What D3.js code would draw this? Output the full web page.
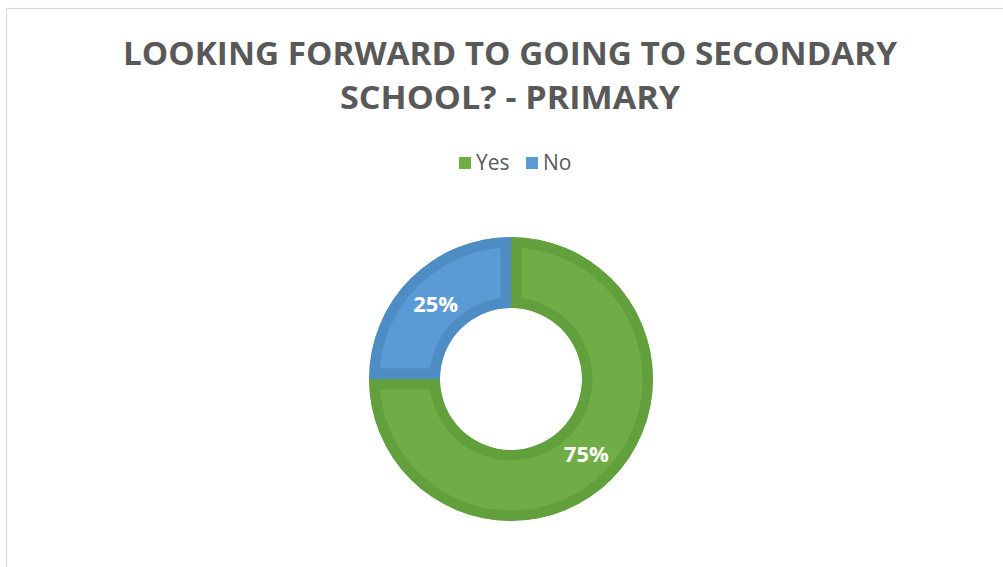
<!DOCTYPE html>
<html>
<head>
<meta charset="utf-8">
<script src="https://cdn.jsdelivr.net/npm/d3@7"></script>
<style>
  html, body { margin: 0; padding: 0; background: #fff; }
  svg { display: block; }
</style>
</head>
<body>
<svg id="chart" width="1003" height="567"></svg>
<script>
const categories = ["Yes", "No"];
const values = [75, 25];
const labels = ["75%", "25%"];
const fillColors = ["#70AD47", "#5B9BD5"];
const strokeColors = ["#62A03D", "#4E8CC4"];
const titleLines = ["LOOKING FORWARD TO GOING TO SECONDARY", "SCHOOL? - PRIMARY"];
const titleWidths = [774, 340];

const svg = d3.select("#chart");

// frame
svg.append("rect").attr("x", 6.5).attr("y", 8.5).attr("width", 1010).attr("height", 600)
  .attr("fill", "#fff").attr("stroke", "#D9D9D9").attr("stroke-width", 1.2);

// title
titleLines.forEach((t, i) => {
  svg.append("text").attr("text-anchor", "middle")
    .attr("font-family", "'Open Sans', sans-serif").attr("font-weight", "bold")
    .attr("font-size", 32).attr("fill", "#595959")
    .attr("x", 510).attr("y", 65 + i * 44)
    .attr("textLength", titleWidths[i]).attr("lengthAdjust", "spacingAndGlyphs")
    .text(t);
});

// legend
const legend = svg.append("g").attr("font-family", "'Open Sans', sans-serif")
  .attr("font-size", 21).attr("fill", "#595959");
const legendX = [459, 526];
categories.forEach((c, i) => {
  const g = legend.append("g").attr("transform", `translate(${legendX[i]},0)`);
  g.append("rect").attr("x", 0).attr("y", 157).attr("width", 12).attr("height", 12).attr("fill", fillColors[i]);
  g.append("text").attr("x", 17).attr("y", 169.5).text(c);
});

// donut
const cx = 511, cy = 379, outerR = 142, innerR = 71, border = 10.5;
const pie = d3.pie().sort(null).value(d => d);
const arcs = pie(values);
const arc = d3.arc().innerRadius(innerR).outerRadius(outerR);
const g = svg.append("g").attr("transform", `translate(${cx},${cy})`);
const defs = svg.append("defs");
arcs.forEach((a, i) => {
  defs.append("clipPath").attr("id", "clip" + i).append("path").attr("d", arc(a));
  g.append("path").attr("d", arc(a)).attr("fill", fillColors[i])
    .attr("stroke", strokeColors[i]).attr("stroke-width", border * 2)
    .attr("clip-path", `url(#clip${i})`);
});
arcs.forEach((a, i) => {
  const [x, y] = arc.centroid(a);
  g.append("text").attr("x", x).attr("y", y).attr("dy", "0.36em")
    .attr("text-anchor", "middle").attr("font-family", "'Open Sans', sans-serif")
    .attr("font-weight", "bold").attr("font-size", 22).attr("fill", "#fff").text(labels[i]);
});
</script>
</body>
</html>
